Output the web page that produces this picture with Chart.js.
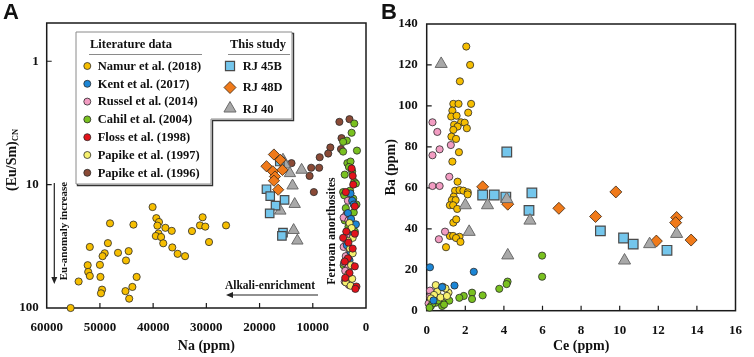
<!DOCTYPE html>
<html><head><meta charset="utf-8">
<style>
html,body{margin:0;padding:0;background:#fff;}
#wrap{position:relative;width:754px;height:357px;overflow:hidden;background:#fff;}
canvas{position:absolute;top:0;}
#cA{left:0;} #cB{left:380px;}
</style>
<script src="https://cdn.jsdelivr.net/npm/chart.js"></script>
</head><body>
<div id="wrap"><canvas id="cA" width="380" height="357"></canvas><canvas id="cB" width="374" height="357"></canvas></div>
<script>
// ---------- Panel A data: [Na (ppm), (Eu/Sm)CN] ----------
const namurA = [[55500,100],[54000,61],[51900,32],[52300,45],[52200,51],[51900,55],[48100,20.6],[48500,29.8],[49100,36],[49500,38],[50000,44.7],[49900,56],[49600,71],[49800,76],[43700,21.1],[46600,35.7],[44600,34.6],[45100,41.2],[43100,56],[43900,67.5],[45200,73],[44500,84],[40100,15.2],[39400,18.7],[38900,20.1],[39200,21.5],[39000,24.9],[39500,26.1],[38500,26.6],[37700,22.4],[36500,23.7],[38100,29.9],[36400,32.3],[35400,36.4],[34000,38],[32700,23.8],[31200,21.4],[30700,18.4],[30200,21.9],[29500,29.2],[26300,21.4]];
const kentA = [[2900,11.8],[2600,13.5],[2300,14.5],[3400,17],[2800,19],[1900,21],[2400,25.5],[3600,31],[2900,35],[3100,41]];
const russelA = [[3400,13.5],[3700,17.5],[4200,18.5],[3300,19.5],[3600,24],[2900,26],[3700,30],[4200,32],[3100,35],[3800,38],[4100,43],[3300,47],[3900,50],[3500,56],[4000,61],[3200,65]];
const cahilA = [[2200,3.2],[2700,3.8],[3600,4.4],[4300,4.5],[1700,5.3],[4300,5.4],[3500,6.7],[2900,6.5],[3200,7.2],[2600,7.8],[4000,8.3],[2200,9.5],[1900,9.8],[4300,11.5],[3000,11.2],[2400,13],[4100,12.2],[1800,14.5],[3800,15.5],[2300,16.8],[4000,19.5],[3300,22],[2100,24],[4200,45],[3500,47]];
const flossA = [[2700,7.4],[2500,8.5],[2400,10],[3800,11.5],[2100,15],[3700,24],[2100,25],[4300,27],[3300,29.5],[2500,33],[3400,39.6],[4000,42],[2100,46],[3100,52],[3900,57],[1800,67],[2000,70]];
const papike97A = [[3100,20.5],[2700,22.5],[2500,27],[3400,28.5],[3000,33],[2500,36],[3600,41],[2800,45],[3300,53],[2600,58],[3800,62],[2900,66]];
const papike96A = [[5000,3.1],[3100,2.95],[4600,4.2],[4700,5.15],[6700,5.0],[7100,5.6],[8700,6.0],[8800,7.3],[10300,7.3],[10600,8.5],[9800,11.5],[14000,6.7]];
const rj45bA = [[16200,6.5],[18700,10.9],[18000,12.4],[15300,13.3],[17000,14.8],[18100,17.1],[15600,24.5],[15800,26]];
const rj48dA = [[17300,5.7],[16100,6.3],[18700,7.1],[17500,7.8],[15700,7.6],[17100,8.6],[17300,9.3],[16500,11.0]];
const rj40A = [[15600,6.3],[15200,6.9],[14300,8.1],[12100,7.6],[13800,10.2],[13400,14.4],[16100,16.3],[13600,23.4],[12900,28.5]];
const xTicksA = [0,10000,20000,30000,40000,50000,60000];
const yTicksA = [1,10,100];

// ---------- Panel B data: [Ce (ppm), Ba (ppm)] ----------
const namurB = [[2.05,129],[2.25,120],[1.72,112],[1.38,101],[1.65,101],[2.3,101],[1.33,97.7],[2.15,96.7],[1.27,94.8],[1.55,95.2],[1.42,90.8],[1.78,92],[1.97,91.8],[2.08,89.1],[1.6,89.9],[1.38,88.3],[1.28,85],[1.52,83.9],[1.67,77.4],[1.33,72.8],[1.6,63],[1.47,58.6],[1.7,58.9],[1.9,58.6],[2.13,57.8],[2.12,56.8],[1.4,55.7],[1.3,54],[1.5,54],[1.2,51.5],[1.37,51.5],[1.58,49.7],[1.38,43],[1.53,44.6],[1.2,36.5],[1.37,36.5],[1.7,36.1],[1.52,35.5],[1.75,33.6],[1.0,31]];
const kentB = [[0.17,21.2],[2.44,19],[1.44,12.3],[0.8,11.5],[0.35,5]];
const russelB = [[0.3,92],[0.55,87.3],[0.67,78.8],[0.3,75.9],[1.25,80.9],[0.3,60.9],[0.67,60.9],[1.17,65.4],[0.63,34.9],[0.95,38.6],[0.17,9.8],[0.17,6.8],[0.1,3.5]];
const cahilB = [[5.98,26.9],[5.98,16.6],[4.19,14.2],[4.14,13],[3.76,10.7],[2.9,7.5],[2.35,8.8],[2.35,5.7],[1.92,7.2],[1.69,6.3],[1.17,4.9],[0.83,3.9],[0.22,2.3],[0.8,2.3],[0.47,3.9],[0.3,3.5],[0.6,5],[0.9,3],[0.15,1.5]];
const papike97B = [[0.47,12.5],[0.83,11.7],[1.13,8.8],[0.97,10.9],[0.55,9.3],[0.38,7.7],[0.22,6],[0.72,6.5],[1.05,7.2]];
const rj45bB = [[4.15,77.5],[2.9,56.5],[3.5,56.5],[4.1,55.5],[5.45,57.5],[5.3,49],[9.0,39],[10.2,35.5],[10.7,32.5],[12.45,29.5]];
const rj48dB = [[2.9,60.5],[4.2,52],[6.85,50],[8.75,46],[9.8,58],[12.95,45.5],[12.9,43],[11.9,34],[13.7,34.5]];
const rj40B = [[0.75,120.5],[2.0,51.5],[3.15,51.5],[4.15,54.5],[5.35,44],[2.2,38.5],[4.2,27],[10.25,24.5],[11.55,32.5],[12.95,37.5]];
const xTicksB = [0,2,4,6,8,10,12,14,16];
const yTicksB = [0,20,40,60,80,100,120,140];

// ---------- series names / legend text ----------
const litNames = ['Namur et al. (2018)','Kent et al. (2017)','Russel et al. (2014)','Cahil et al. (2004)','Floss et al. (1998)','Papike et al. (1997)','Papike et al. (1996)'];
const studyNames = ['RJ 45B','RJ 48D','RJ 40'];

const COL = {namur:'#F6BE00',kent:'#1C86D6',russel:'#F29CC2',cahil:'#79C11F',floss:'#E3131B',p97:'#F6F06E',p96:'#8A4A36',rj45b:'#74C6EC',rj48d:'#F07A1A',rj40:'#A8A8A8'};
const litCols = [COL.namur,COL.kent,COL.russel,COL.cahil,COL.floss,COL.p97,COL.p96];

const SERIF = '"Liberation Serif", "Times New Roman", serif';
const toXY = arr => arr.map(p => ({x:p[0], y:p[1]}));

function circ(label, data, color, order){
  return {label, data:toXY(data), pointStyle:'circle', pointRadius:3.6, pointBackgroundColor:color,
          pointBorderColor:'#2a2a2a', pointBorderWidth:0.8, order, clip:false};
}
function sq(label, data, r, order){
  return {label, data:toXY(data), pointStyle:'rect', pointRadius:r, pointBackgroundColor:COL.rj45b,
          pointBorderColor:'#4a4a4a', pointBorderWidth:1.2, order, clip:false};
}
function dia(label, data, r, order){
  return {label, data:toXY(data), pointStyle:'rectRot', pointRadius:r, pointBackgroundColor:COL.rj48d,
          pointBorderColor:'#3a2510', pointBorderWidth:0.8, order, clip:false};
}
function tri(label, data, r, order){
  return {label, data:toXY(data), pointStyle:'triangle', pointRadius:r, pointBackgroundColor:COL.rj40,
          pointBorderColor:'#6a6a6a', pointBorderWidth:1, order, clip:false};
}

function mark(ctx, style, x, y, r, fill, stroke, lw){
  ctx.save(); ctx.fillStyle=fill; ctx.strokeStyle=stroke; ctx.lineWidth=lw; ctx.beginPath();
  if(style==='circle'){ ctx.arc(x,y,r,0,Math.PI*2); }
  else if(style==='rect'){ const s=r*Math.SQRT1_2; ctx.rect(x-s,y-s,2*s,2*s); }
  else if(style==='rectRot'){ ctx.moveTo(x-r,y); ctx.lineTo(x,y-r); ctx.lineTo(x+r,y); ctx.lineTo(x,y+r); ctx.closePath(); }
  else if(style==='triangle'){ let a=0; ctx.moveTo(x+Math.sin(a)*r,y-Math.cos(a)*r); a+=2*Math.PI/3; ctx.lineTo(x+Math.sin(a)*r,y-Math.cos(a)*r); a+=2*Math.PI/3; ctx.lineTo(x+Math.sin(a)*r,y-Math.cos(a)*r); ctx.closePath(); }
  ctx.fill(); ctx.stroke(); ctx.restore();
}
function arrow(ctx, x1, y1, x2, y2){
  ctx.save(); ctx.strokeStyle='#222'; ctx.fillStyle='#222'; ctx.lineWidth=1.2;
  const ang=Math.atan2(y2-y1,x2-x1), L=7, W=3;
  const bx=x2-Math.cos(ang)*L, by=y2-Math.sin(ang)*L;
  ctx.beginPath(); ctx.moveTo(x1,y1); ctx.lineTo(bx,by); ctx.stroke();
  ctx.beginPath(); ctx.moveTo(x2,y2);
  ctx.lineTo(bx+Math.sin(ang)*W, by-Math.cos(ang)*W);
  ctx.lineTo(bx-Math.sin(ang)*W, by+Math.cos(ang)*W);
  ctx.closePath(); ctx.fill(); ctx.restore();
}
function vtext(ctx, txt, x, y, font){
  ctx.save(); ctx.translate(x,y); ctx.rotate(-Math.PI/2); ctx.font=font; ctx.fillStyle='#111';
  ctx.textAlign='center'; ctx.textBaseline='middle'; ctx.fillText(txt,0,0); ctx.restore();
}

const framePlugin = {
  id:'frame',
  beforeDatasetsDraw(chart){
    const {ctx, chartArea:a} = chart;
    ctx.save();
    ctx.strokeStyle='#1a1a1a'; ctx.lineWidth=1.5;
    ctx.strokeRect(a.left, a.top, a.right-a.left, a.bottom-a.top);
    ctx.lineWidth=1.2; ctx.beginPath();
    const xs=chart.scales.x, ys=chart.scales.y;
    xs.ticks.forEach(t=>{const p=xs.getPixelForValue(t.value); if(p>a.left+1&&p<a.right-1){ctx.moveTo(p,a.bottom);ctx.lineTo(p,a.bottom-5);}});
    ys.ticks.forEach(t=>{const p=ys.getPixelForValue(t.value); if(p>a.top+1&&p<a.bottom-1){ctx.moveTo(a.left,p);ctx.lineTo(a.left+5,p);}});
    ctx.stroke(); ctx.restore();
  }
};

const annoA = {
  id:'annoA',
  afterDraw(chart){
    const ctx=chart.ctx;
    // panel label
    ctx.save(); ctx.font='bold 22px "Liberation Sans", Arial, sans-serif'; ctx.fillStyle='#111';
    ctx.textBaseline='alphabetic'; ctx.textAlign='left'; ctx.fillText('A',3,19); ctx.restore();
    // y title with subscript
    ctx.save(); ctx.translate(12,160); ctx.rotate(-Math.PI/2); ctx.fillStyle='#111';
    ctx.font='bold 14px '+SERIF; const w1=ctx.measureText('(Eu/Sm)').width;
    ctx.font='bold 8.5px '+SERIF; const w2=ctx.measureText('CN').width;
    ctx.textAlign='left'; ctx.textBaseline='middle';
    ctx.font='bold 14px '+SERIF; ctx.fillText('(Eu/Sm)',-(w1+w2)/2,0);
    ctx.font='bold 8.5px '+SERIF; ctx.fillText('CN',-(w1+w2)/2+w1,4);
    ctx.restore();
    // legend box
    const poly=[[76,32],[292,32],[292,119],[211,119],[211,184],[76,184]];
    const path=(dx,dy)=>{ctx.beginPath(); poly.forEach((p,i)=>i?ctx.lineTo(p[0]+dx,p[1]+dy):ctx.moveTo(p[0]+dx,p[1]+dy)); ctx.closePath();};
    ctx.save();
    path(1.5,1.5); ctx.strokeStyle='#333'; ctx.lineWidth=1.4; ctx.stroke();
    path(0,0); ctx.fillStyle='#fff'; ctx.fill(); ctx.strokeStyle='#8a8a8a'; ctx.lineWidth=1; ctx.stroke();
    ctx.fillStyle='#111'; ctx.font='bold 12.5px '+SERIF; ctx.textBaseline='middle';
    ctx.textAlign='center'; ctx.fillText('Literature data',131,44.5); ctx.fillText('This study',258,44.5);
    ctx.strokeStyle='#8a8a8a'; ctx.lineWidth=1; ctx.beginPath();
    ctx.moveTo(89,54.5); ctx.lineTo(202,54.5); ctx.moveTo(228,54.5); ctx.lineTo(290,54.5); ctx.stroke();
    ctx.textAlign='left';
    litNames.forEach((n,i)=>{ const y=66+i*17.8; mark(ctx,'circle',87.3,y,3.5,litCols[i],'#2a2a2a',0.8); ctx.fillStyle='#111'; ctx.fillText(n,97.7,y+0.5); });
    const sy=[66,87.5,109.5];
    mark(ctx,'rect',230,sy[0],6.4,COL.rj45b,'#4a4a4a',1.2);
    mark(ctx,'rectRot',230,sy[1],6,COL.rj48d,'#3a2510',0.8);
    mark(ctx,'triangle',230,sy[2]-1,7,COL.rj40,'#6a6a6a',1);
    ctx.fillStyle='#111';
    studyNames.forEach((n,i)=>ctx.fillText(n,242.7,sy[i]+0.5));
    ctx.restore();
    // annotations
    arrow(ctx,54.3,183,54.3,284);
    vtext(ctx,'Eu-anomaly increase',64,231,'bold 11px '+SERIF);
    ctx.save(); ctx.font='bold 11.5px '+SERIF; ctx.fillStyle='#111'; ctx.textAlign='center'; ctx.textBaseline='middle';
    ctx.fillText('Alkali-enrichment',270,285.7); ctx.restore();
    arrow(ctx,318,295,226,295);
    vtext(ctx,'Ferroan anorthosites',332.3,231,'bold 12px '+SERIF);
  }
};

const annoB = {
  id:'annoB',
  afterDraw(chart){
    const ctx=chart.ctx;
    ctx.save(); ctx.font='bold 22px "Liberation Sans", Arial, sans-serif'; ctx.fillStyle='#111';
    ctx.textBaseline='alphabetic'; ctx.textAlign='left'; ctx.fillText('B',1,19); ctx.restore();
  }
};

const tickFont = {family:SERIF, weight:'bold', size:13};
const titleFont = {family:SERIF, weight:'bold', size:14};

new Chart(document.getElementById('cA'), {
  type:'scatter',
  data:{datasets:[
    dia('RJ 48D', rj48dA, 5.6, 0),
    sq('RJ 45B', rj45bA, 6, 1),
    tri('RJ 40', rj40A, 6.6, 2),
    circ(litNames[4], flossA, COL.floss, 3),
    circ(litNames[5], papike97A, COL.p97, 4),
    circ(litNames[1], kentA, COL.kent, 5),
    circ(litNames[2], russelA, COL.russel, 6),
    circ(litNames[3], cahilA, COL.cahil, 7),
    circ(litNames[6], papike96A, COL.p96, 8),
    circ(litNames[0], namurA, COL.namur, 9)
  ]},
  options:{
    responsive:false, animation:false, events:[],
    layout:{padding:{left:0,right:14,top:23,bottom:0}},
    plugins:{legend:{display:false}, tooltip:{enabled:false}},
    scales:{
      x:{type:'linear', reverse:true, min:0, max:60000,
         afterBuildTicks:s=>{s.ticks=xTicksA.map(v=>({value:v}));},
         afterFit:s=>{s.height=49;},
         grid:{display:false, drawTicks:false}, border:{display:false},
         ticks:{font:tickFont, color:'#111', padding:12, autoSkip:false, maxRotation:0, callback:v=>String(v)},
         title:{display:true, text:'Na (ppm)', font:titleFont, color:'#111', padding:{top:0,bottom:2}}},
      y:{type:'logarithmic', reverse:true, min:0.49, max:100,
         afterBuildTicks:s=>{s.ticks=yTicksA.map(v=>({value:v}));},
         afterFit:s=>{s.width=46.7;},
         grid:{display:false, drawTicks:false}, border:{display:false},
         ticks:{font:tickFont, color:'#111', padding:8, autoSkip:false, callback:v=>String(v)}}
    }
  },
  plugins:[framePlugin, annoA]
});

new Chart(document.getElementById('cB'), {
  type:'scatter',
  data:{datasets:[
    tri('RJ 40', rj40B, 7, 0),
    sq('RJ 45B', rj45bB, 6.8, 1),
    dia('RJ 48D', rj48dB, 6, 2),
    circ(litNames[1], kentB, COL.kent, 3),
    circ(litNames[5], papike97B, COL.p97, 4),
    circ(litNames[3], cahilB, COL.cahil, 5),
    circ(litNames[2], russelB, COL.russel, 6),
    circ(litNames[0], namurB, COL.namur, 7)
  ]},
  options:{
    responsive:false, animation:false, events:[],
    layout:{padding:{left:0,right:7.3,top:24,bottom:0}},
    plugins:{legend:{display:false}, tooltip:{enabled:false}},
    scales:{
      x:{type:'linear', min:0, max:16,
         afterBuildTicks:s=>{s.ticks=xTicksB.map(v=>({value:v}));},
         afterFit:s=>{s.height=46.3;},
         grid:{display:false, drawTicks:false}, border:{display:false},
         ticks:{font:tickFont, color:'#111', padding:12, autoSkip:false, maxRotation:0},
         title:{display:true, text:'Ce (ppm)', font:titleFont, color:'#111', padding:{top:0,bottom:2}}},
      y:{type:'linear', min:0, max:140,
         afterBuildTicks:s=>{s.ticks=yTicksB.map(v=>({value:v}));},
         afterFit:s=>{s.width=46.7;},
         grid:{display:false, drawTicks:false}, border:{display:false},
         ticks:{font:tickFont, color:'#111', padding:9, autoSkip:false},
         title:{display:true, text:'Ba (ppm)', font:titleFont, color:'#111', padding:{top:3,bottom:0}}}
    }
  },
  plugins:[framePlugin, annoB]
});
</script>
</body></html>
